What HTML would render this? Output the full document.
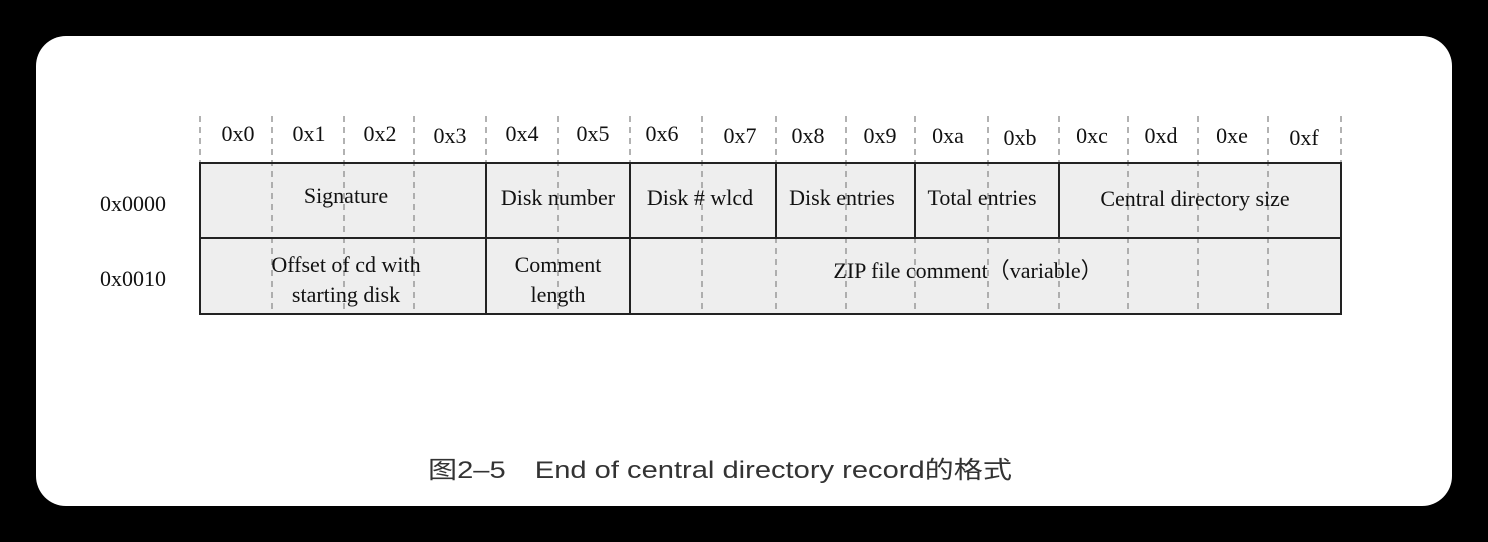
<!DOCTYPE html>
<html><head><meta charset="utf-8"><style>
html,body{margin:0;padding:0;background:#000;width:1488px;height:542px;overflow:hidden}
.card{position:absolute;left:36px;top:36px;width:1416px;height:470px;background:#fff;border-radius:30px}
svg{position:absolute;left:0;top:0}
</style></head><body>
<div class="card"></div>
<svg width="1488" height="542" xmlns="http://www.w3.org/2000/svg">
<rect x="200" y="163" width="1141" height="151" fill="#eeeeee"/>
<g stroke="#999" stroke-width="1.5" stroke-dasharray="6,5">
<line x1="200" y1="116" x2="200" y2="314"/><line x1="272" y1="116" x2="272" y2="314"/>
<line x1="344" y1="116" x2="344" y2="314"/><line x1="414" y1="116" x2="414" y2="314"/>
<line x1="486" y1="116" x2="486" y2="314"/><line x1="558" y1="116" x2="558" y2="314"/>
<line x1="630" y1="116" x2="630" y2="314"/><line x1="702" y1="116" x2="702" y2="314"/>
<line x1="776" y1="116" x2="776" y2="314"/><line x1="846" y1="116" x2="846" y2="314"/>
<line x1="915" y1="116" x2="915" y2="314"/><line x1="988" y1="116" x2="988" y2="314"/>
<line x1="1059" y1="116" x2="1059" y2="314"/><line x1="1128" y1="116" x2="1128" y2="314"/>
<line x1="1198" y1="116" x2="1198" y2="314"/><line x1="1268" y1="116" x2="1268" y2="314"/>
<line x1="1341" y1="116" x2="1341" y2="314"/>
</g>
<g stroke="#222" stroke-width="2" fill="none">
<rect x="200" y="163" width="1141" height="151"/>
<line x1="200" y1="238" x2="1341" y2="238"/>
<line x1="486" y1="163" x2="486" y2="314"/><line x1="630" y1="163" x2="630" y2="314"/>
<line x1="776" y1="163" x2="776" y2="238"/><line x1="915" y1="163" x2="915" y2="238"/>
<line x1="1059" y1="163" x2="1059" y2="238"/>
</g>
<g font-family="Liberation Serif, serif" font-size="22" fill="#111" text-anchor="middle">
<text x="238" y="141">0x0</text><text x="309" y="141">0x1</text><text x="380" y="141">0x2</text><text x="450" y="143">0x3</text>
<text x="522" y="141">0x4</text><text x="593" y="141">0x5</text><text x="662" y="141">0x6</text><text x="740" y="143">0x7</text>
<text x="808" y="143">0x8</text><text x="880" y="143">0x9</text><text x="948" y="143">0xa</text><text x="1020" y="145">0xb</text>
<text x="1092" y="143">0xc</text><text x="1161" y="143">0xd</text><text x="1232" y="143">0xe</text><text x="1304" y="145">0xf</text>
<text x="133" y="211">0x0000</text><text x="133" y="286">0x0010</text>
<text x="346" y="203">Signature</text>
<text x="558" y="205">Disk number</text>
<text x="700" y="205">Disk # wlcd</text>
<text x="842" y="205">Disk entries</text>
<text x="982" y="205">Total entries</text>
<text x="1195" y="206">Central directory size</text>
<text x="346" y="272">Offset of cd with</text>
<text x="346" y="302">starting disk</text>
<text x="558" y="272">Comment</text>
<text x="558" y="302">length</text>
<text x="968" y="278">ZIP file comment（variable）</text>
</g>
<text x="428" y="478" font-family="Liberation Sans, 'Noto Sans CJK SC', sans-serif" font-size="24" fill="#333" textLength="584" lengthAdjust="spacingAndGlyphs">图2–5　End of central directory record的格式</text>
</svg>
</body></html>
